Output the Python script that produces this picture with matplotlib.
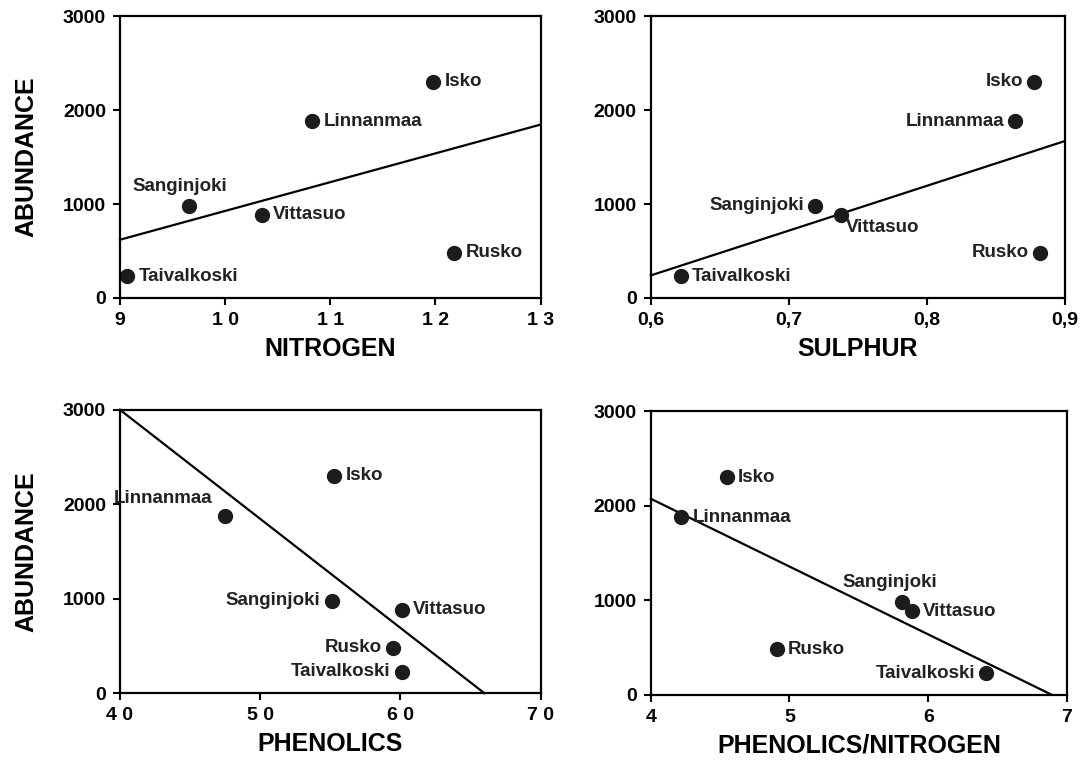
import matplotlib
matplotlib.use("Agg")
import matplotlib.pyplot as plt

plt.rcParams['font.family'] = ['Liberation Sans', 'DejaVu Sans']

sites = ["Isko", "Linnanmaa", "Sanginjoki", "Vittasuo", "Rusko", "Taivalkoski"]
abundance = [2300, 1880, 980, 885, 480, 230]

nitrogen = [11.98, 10.83, 9.66, 10.35, 12.18, 9.07]
sulphur = [0.878, 0.864, 0.719, 0.738, 0.882, 0.622]
phenolics = [55.3, 47.5, 55.1, 60.1, 59.5, 60.1]
phen_nitro = [4.55, 4.22, 5.81, 5.88, 4.91, 6.42]

# regression lines, read as end points
fit_nitrogen = ([9, 13], [620, 1845])
fit_sulphur = ([0.6, 0.9], [240, 1670])
fit_phenolics = ([40, 66], [3000, 0])
fit_phen_nitro = ([4, 6.89], [2075, 0])

nitro_ticks = [9, 10, 11, 12, 13]
nitro_labels = ["9", "1 0", "1 1", "1 2", "1 3"]
sulph_ticks = [0.6, 0.7, 0.8, 0.9]
sulph_labels = ["0,6", "0,7", "0,8", "0,9"]
phen_ticks = [40, 50, 60, 70]
phen_labels = ["4 0", "5 0", "6 0", "7 0"]
pn_ticks = [4, 5, 6, 7]
pn_labels = ["4", "5", "6", "7"]
y_ticks = [0, 1000, 2000, 3000]

# label placement per panel: (dx, dy, ha, va) in points
R = (8, 0, 'left', 'center')
L = (-8, 0, 'right', 'center')
place = [
    [R, R, (-7, 14, 'center', 'center'), R, R, R],
    [L, L, L, (3, -9, 'left', 'center'), L, R],
    [R, (-9, 12, 'right', 'center'), L, R, L, L],
    [R, R, (-9, 14, 'center', 'center'), R, R, L],
]

panels = [
    (nitrogen, fit_nitrogen, (9, 13), nitro_ticks, nitro_labels, "NITROGEN"),
    (sulphur, fit_sulphur, (0.6, 0.9), sulph_ticks, sulph_labels, "SULPHUR"),
    (phenolics, fit_phenolics, (40, 70), phen_ticks, phen_labels, "PHENOLICS"),
    (phen_nitro, fit_phen_nitro, (4, 7), pn_ticks, pn_labels, "PHENOLICS/NITROGEN"),
]

fig = plt.figure(figsize=(10.81, 7.66), dpi=100)
rects = [
    [0.111, 0.611, 0.389, 0.368],
    [0.602, 0.611, 0.383, 0.368],
    [0.111, 0.095, 0.389, 0.370],
    [0.602, 0.093, 0.385, 0.370],
]

for i, (xv, fit, xlim, xt, xtl, xlabel) in enumerate(panels):
    ax = fig.add_axes(rects[i])
    ax.plot(fit[0], fit[1], color='black', lw=1.6, clip_on=False)
    ax.plot(xv, abundance, 'o', color='#1c1c1c', ms=10, clip_on=False)
    for j, s in enumerate(sites):
        dx, dy, ha, va = place[i][j]
        ax.annotate(s, (xv[j], abundance[j]), xytext=(dx, dy), textcoords='offset points',
                    ha=ha, va=va, fontsize=13.5, fontweight='bold', color='#222222')
    ax.set_xlim(xlim)
    ax.set_ylim(0, 3000)
    ax.set_xticks(xt)
    ax.set_xticklabels(xtl)
    ax.set_yticks(y_ticks)
    ax.tick_params(direction='out', length=5, width=1.5, labelsize=14, pad=5)
    for lab in ax.get_xticklabels() + ax.get_yticklabels():
        lab.set_fontweight('bold')
    for sp in ax.spines.values():
        sp.set_linewidth(1.6)
    ax.set_xlabel(xlabel, fontsize=18, fontweight='bold', labelpad=6)
    if i % 2 == 0:
        ax.set_ylabel("ABUNDANCE", fontsize=18, fontweight='bold')
        ax.yaxis.set_label_coords(-0.195, 0.5)

fig.savefig("out.png", dpi=100)
